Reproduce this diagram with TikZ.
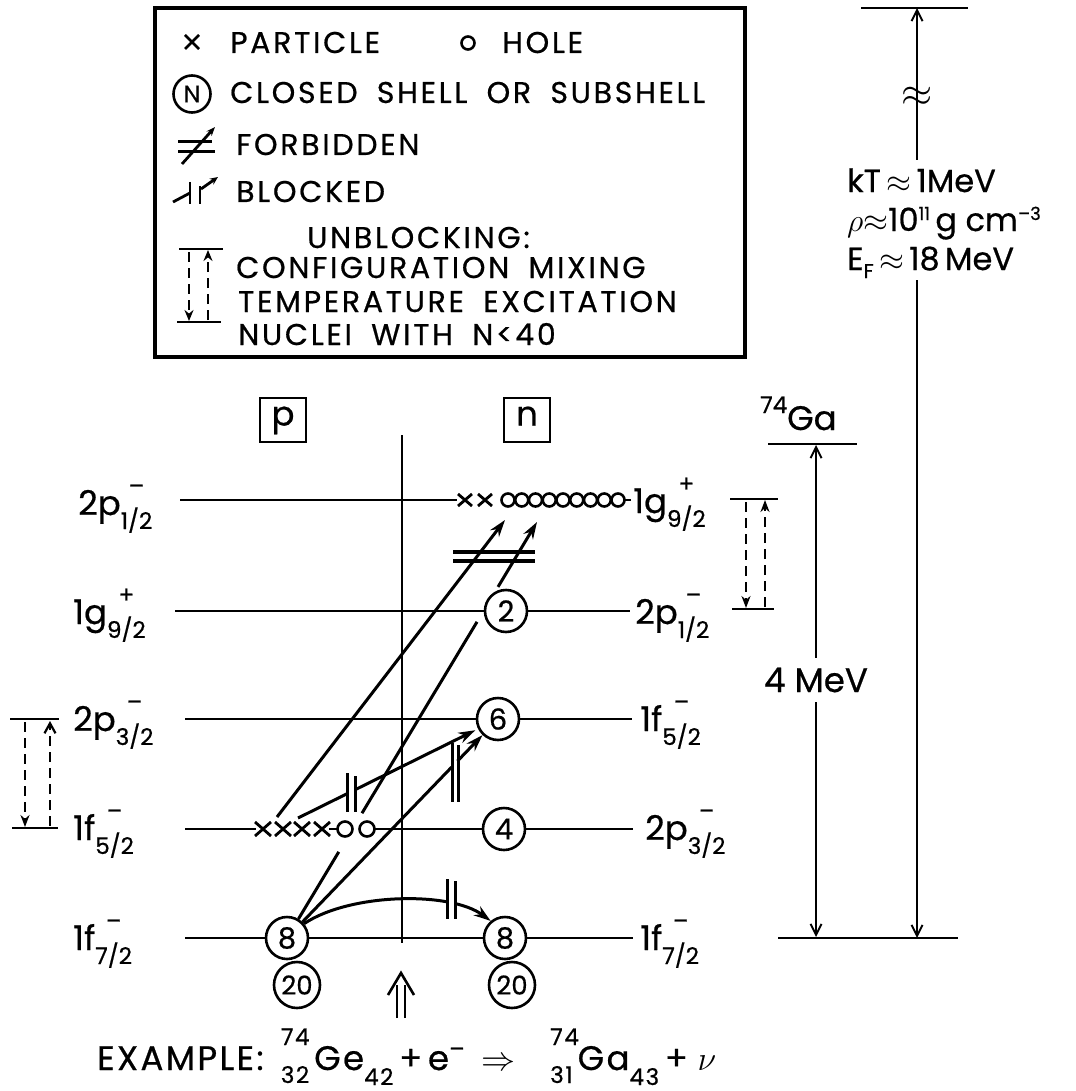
\RequirePackage{fix-cm}
\documentclass[tikz,border=0pt]{standalone}
\usepackage{fontspec}
\setmainfont{Poppins}[FakeBold=0.6]
\newfontfamily\legfont{Poppins}[LetterSpace=9.0,WordSpace=1.8,FakeBold=0.6]
\newfontfamily\exfont{Poppins}[LetterSpace=7.0,WordSpace=1.5,FakeBold=0.6]
\usepackage{amsmath}
\usetikzlibrary{arrows.meta,calc}
\newcommand\fsL{\fontsize{30}{32}\selectfont}
\newcommand\fsM{\fontsize{34}{36}\selectfont}
\newcommand\fsS{\fontsize{23}{24}\selectfont}
\newcommand\fsC{\fontsize{29}{30}\selectfont}
\newcommand\orb[3]{#1\sbox0{\fsS #3}\rlap{\hbox to \wd0{\hss\raisebox{21pt}{\fsS #2}\hss}}\raisebox{-14pt}{\usebox0}}
\newcommand\nuc[4]{\sbox0{\fsS #2}\rlap{\raisebox{25pt}{\fsS #1}}\raisebox{-13pt}{\usebox0}\hspace{5pt}#3\raisebox{-15pt}{\fsS #4}}
\begin{document}
\begin{tikzpicture}[x=1pt,y=-1pt,
  lev/.style={line width=2.8pt},
  conn/.style={line width=3pt},
  shell/.style={circle,draw,line width=2.6pt,minimum size=42pt,inner sep=0pt,font=\fsC,fill=white},
  arr/.style={-{Stealth[length=17pt,width=11pt]}},
  dsh/.style={line width=2.6pt,dash pattern=on 10pt off 6pt},
  thinl/.style={line width=1.9pt},
  barb/.style={-{Straight Barb[length=11pt,width=11pt,line width=1.9pt]}},
  blk/.style={line width=3pt},
  txt/.style={anchor=base west,inner sep=0pt,font={\legfont\fsL}},
  lab/.style={anchor=base west,inner sep=0pt,font=\fsM},
  hole/.style={circle,draw,line width=2.6pt,fill=white,inner sep=0pt}]
\useasboundingbox (0,0) rectangle (1075,1091);

% ---------------- legend ----------------
\draw[line width=3.5pt] (155,8) rectangle (745,357);
\draw[line width=2.8pt] (185,35)--(199,49) (185,49)--(199,35);
\node[txt] (tPart) at (230,53) {PARTICLE};
\node[hole,minimum size=13pt] (legO) at (468,43) {};
\node[txt] (tHole) at (502,53) {HOLE};
\node[shell,minimum size=37pt,font=\fontsize{24}{24}\selectfont] (legN) at (192,94) {N};
\node[txt] (tClosed) at (230,103) {CLOSED SHELL OR SUBSHELL};
% forbidden symbol
\draw[line width=2.8pt,-{Stealth[length=9pt,width=7pt]}] (182,164)--(215,127);
\draw[line width=3pt] (178,142)--(212,142) (178,152)--(215,152);
\node[txt] (tForb) at (236,155) {FORBIDDEN};
% blocked symbol
\draw[line width=2.8pt] (173,202)--(190,193);
\draw[line width=2.8pt] (190,182)--(190,204) (200,186)--(200,204);
\draw[line width=2.8pt,-{Stealth[length=8pt,width=7pt]}] (201,189)--(218,177);
\node[txt] (tBlock) at (236,202) {BLOCKED};
% unblocking symbol
\draw[lev] (179,249)--(223,249) (177,322)--(221,322);
\draw[dsh,-{Stealth[length=11pt,width=9pt]}] (189,252)--(189,321);
\draw[dsh,-{Stealth[length=11pt,width=9pt]}] (208,320)--(208,250);
\node[txt] (tUnb) at (307,248) {UNBLOCKING:};
\node[txt] (tConf) at (236,278) {CONFIGURATION MIXING};
\node[txt] (tTemp) at (238,312) {TEMPERATURE EXCITATION};
\node[txt] (tNuc) at (238,345) {NUCLEI WITH N<40};

% ---------------- p / n ----------------
\node[draw,line width=2.6pt,minimum width=46pt,minimum height=44pt,inner sep=0pt,font=\fsM,text height=18pt,text depth=7pt] (pbox) at (283,420) {p};
\node[draw,line width=2.6pt,minimum width=46pt,minimum height=44pt,inner sep=0pt,font=\fsM,text height=18pt,text depth=7pt] (nbox) at (527,420) {n};

% centre line
\coordinate (vtop) at (402,435);
\coordinate (vbot) at (402,943);
\draw[lev] (vtop) -- (vbot);

% shells
\node[shell] (c2) at (506,611) {2};
\node[shell] (c6) at (498,719) {6};
\node[shell] (c4) at (504,829) {4};
\node[shell] (c8L) at (287,938) {8};
\node[shell] (c8R) at (505,938) {8};
\node[shell,minimum size=46pt,font=\fontsize{26}{26}\selectfont] (c20L) at (297,985) {20};
\node[shell,minimum size=46pt,font=\fontsize{26}{26}\selectfont] (c20R) at (512,985) {20};

% level lines
\draw[lev] (180,500) -- (457,500) (624,500) -- (631,500);
\draw[lev] (175,611) -- (c2) -- (630,611);
\draw[lev] (185,719) -- (c6) -- (632,719);
\draw[lev] (185,829) -- (256,829) (329,829) -- (338,829) (375,829) -- (c4) -- (633,829);
\draw[lev] (185,938) -- (c8L) -- (c8R) -- (633,938);

% particles and holes
\foreach \x in {465,485}{\draw[line width=2.8pt] (\x-7,494)--(\x+7,506) (\x-7,506)--(\x+7,494);}
\foreach \i in {0,...,8}{\node[hole,minimum size=13pt] (h\i) at (508+13.75*\i,500) {};}
\foreach \x in {263,283,302,322}{\draw[line width=2.8pt] (\x-8,822)--(\x+8,836) (\x-8,836)--(\x+8,822);}
\node[hole,minimum size=15pt] (hA) at (345,829) {};
\node[hole,minimum size=15pt] (hB) at (367,829) {};

% level labels (left)
\node[lab] (l1) at (78,515) {\orb{2p}{–}{1/2}};
\node[lab] (l2) at (73,624) {\orb{1g}{+}{9/2}};
\node[lab] (l3) at (73,731) {\orb{2p}{–}{3/2}};
\node[lab] (l4) at (73,840) {\orb{1f}{–}{5/2}};
\node[lab] (l5) at (73,950) {\orb{1f}{–}{7/2}};
% level labels (right)
\node[lab] (r1) at (633,513) {\orb{1g}{+}{9/2}};
\node[lab] (r2) at (635,624) {\orb{2p}{–}{1/2}};
\node[lab] (r3) at (640,731) {\orb{1f}{–}{5/2}};
\node[lab] (r4) at (645,840) {\orb{2p}{–}{3/2}};
\node[lab] (r5) at (640,950) {\orb{1f}{–}{7/2}};

% ---------------- transitions ----------------
\coordinate (g1) at (537,522);
\coordinate (g2) at (505,520);
\coordinate (a2) at (277,817);
\coordinate (a3) at (298,818);
% 8 -> g9/2 (right)
\draw[conn] (c8L) -- ($(c8L)!0.207!(g1)$);
\draw[conn] ($(c8L)!0.300!(g1)$) -- ($(c8L)!0.760!(g1)$);
\draw[conn,arr] ($(c8L)!0.844!(g1)$) -- (g1);
% f5/2 -> g9/2 (left)
\draw[conn,arr] (a2) -- (g2);
% forbidden bars
\draw[line width=3.4pt] (453,552) -- (535,552) (453,561) -- (535,561);
% f5/2 -> 6 blocked
\draw[conn] (a3) -- ($(a3)!0.245!(c6)$);
\draw[conn,arr,shorten >=3pt] ($(a3)!0.285!(c6)$) -- (c6);
\draw[blk] (347,773) -- (347,812) (355,776) -- (355,812);
% 8 -> 6 blocked
\draw[conn] (c8L) -- ($(c8L)!0.780!(c6)$);
\draw[conn,arr] ($(c8L)!0.808!(c6)$) -- (c6);
\draw[blk] (452,743) -- (452,802) (458,745) -- (458,802);
% 8 -> 8 blocked
\draw[conn,arr] (c8L.40) .. controls (350,893) and (450,891) .. (c8R.130);
\fill[white] (448.5,884) rectangle (453.5,916);
\draw[blk] (447,879) -- (447,919) (455,881) -- (455,919);

% unblocking arrows in the scheme
\draw[lev] (10,719) -- (59,719) (12,828) -- (58,828);
\draw[dsh,-{Stealth[length=12pt,width=9pt]}] (25,722) -- (25,827);
\draw[dsh,-{Straight Barb[length=10pt,width=11pt,line width=2.2pt]}] (50,826) -- (50,721);
\draw[lev] (730,499) -- (778,499) (732,609) -- (774,609);
\draw[dsh,-{Stealth[length=12pt,width=9pt]}] (746,502) -- (746,608);
\draw[dsh,-{Stealth[length=12pt,width=9pt]}] (765,607) -- (765,500);

% double arrow and example
\draw[line width=2.6pt] (397,1018) -- (397,985) (405,1018) -- (405,985);
\draw[line width=2.6pt] (388,995) -- (401,973) -- (414,995);
\node[lab,font={\exfont\fsM}] (ex) at (97,1070) {EXAMPLE:\ \nuc{74}{32}{Ge}{42}\,+\,e\raisebox{13pt}{\fsS –}\ $\Rightarrow$\ \ \nuc{74}{31}{Ga}{43}\,+\;$\nu$};

% ---------------- energy scales ----------------
\coordinate (sTop) at (917,8);
\coordinate (sBot) at (917,938);
\draw[thinl] (861,8) -- (968,8);
\draw[thinl,barb] (917,160) -- (sTop);
\node[font=\fontsize{40}{40}\selectfont,inner sep=0pt] (apx) at (917,97) {$\approx$};
\node[anchor=base west,inner sep=0pt,align=left,font=\fontsize{32}{39}\selectfont] (params) at (847,270)
  {kT\,${\approx}$\,1MeV\\
   $\rho{\approx}$10\raisebox{11pt}{\fontsize{18}{18}\selectfont 11}\,g\ cm\raisebox{11pt}{\fontsize{18}{18}\selectfont –3}\\
   E\raisebox{-8pt}{\fontsize{20}{20}\selectfont F}\,${\approx}$\,18\,MeV};
\draw[thinl,barb] (917,280) -- (sBot);
\draw[thinl] (778,938) -- (958,938);
\draw[thinl] (768,444) -- (857,444);
\node[lab] (ga) at (760,430) {\raisebox{17pt}{\fsS 74}Ga};
\node[font=\fsM,inner ysep=10pt,inner xsep=0pt,text height=24pt,text depth=0pt] (mev) at (816,680) {4 MeV};
\draw[thinl,barb] (mev.north) -- (816,445);
\draw[thinl,barb] (mev.south) -- (816,937);
\end{tikzpicture}
\end{document}
